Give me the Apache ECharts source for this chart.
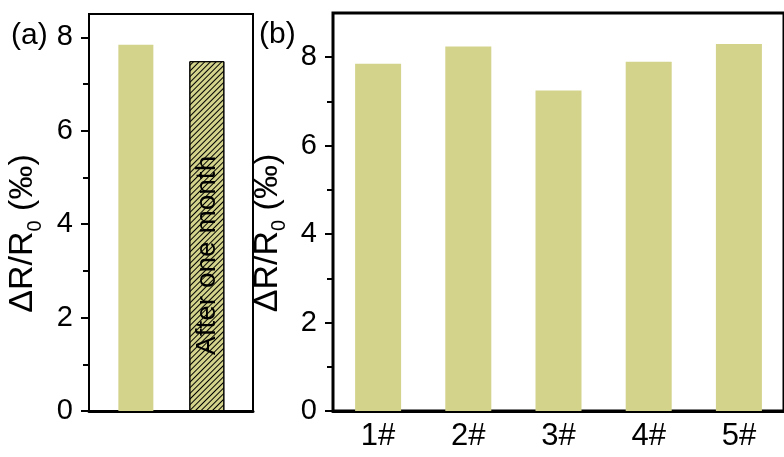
<!DOCTYPE html>
<html>
<head>
<meta charset="utf-8">
<script src="https://cdn.jsdelivr.net/npm/echarts@6/dist/echarts.min.js"></script>
<style>
  html, body { margin: 0; padding: 0; background: #fff; }
  #chart { width: 784px; height: 457px; }
</style>
</head>
<body>
<div id="chart"></div>
<script>
// panel (a): fresh vs after one month
const posA = [1, 2];
const valuesA = [7.84, 7.49];
const noteA = 'After one month';

// panel (b): five samples
const samplesB = ['1#', '2#', '3#', '4#', '5#'];
const valuesB = [7.85, 8.24, 7.25, 7.90, 8.30];

const majorTicks = [0, 2, 4, 6, 8];
const minorTicks = [1, 3, 5, 7];

const FONT = '"Liberation Sans", Arial, sans-serif';
const OLIVE = '#d3d38b';

const chart = echarts.init(document.getElementById('chart'), null, { renderer: 'canvas' });

const yName = '{a|ΔR/R}{s|0}{a| (‰)}';
const yNameStyle = {
    padding: [0, 42, 0, 0],
    rich: {
        a: { fontSize: 34, lineHeight: 44, fontFamily: FONT, color: '#000' },
        s: { fontSize: 20, lineHeight: 20, fontFamily: FONT, color: '#000', padding: [24, 0, 0, 0] }
    }
};

function mainY(grid, max, gap) {
    return {
        type: 'value', gridIndex: grid, min: 0, max: max, interval: 2,
        name: yName, nameLocation: 'middle', nameGap: gap, nameTextStyle: yNameStyle,
        axisLine: { show: true, lineStyle: { color: '#000', width: 2 } },
        axisTick: { show: true, inside: false, length: 8, customValues: majorTicks,
            lineStyle: { color: '#000', width: 2 } },
        axisLabel: { customValues: majorTicks, fontSize: 29, fontFamily: FONT, color: '#000', margin: 16 },
        splitLine: { show: false }
    };
}

function minorY(grid, max) {
    return {
        type: 'value', gridIndex: grid, min: 0, max: max, interval: 1, position: 'left',
        axisLine: { show: false },
        axisTick: { show: true, length: 6, customValues: minorTicks,
            lineStyle: { color: '#000', width: 2 } },
        axisLabel: { show: false },
        splitLine: { show: false }
    };
}

const titleStyle = { fontSize: 30, fontWeight: 'normal', fontFamily: FONT, color: '#000' };

const option = {
    backgroundColor: '#fff',
    animation: false,
    title: [
        { text: '(a)', left: 11, top: 21, padding: 0, textStyle: titleStyle },
        { text: '(b)', left: 259, top: 20, padding: 0, textStyle: titleStyle }
    ],
    grid: [
        { left: 89, top: 14, width: 164, height: 397, show: true,
          borderColor: '#000', borderWidth: 2, backgroundColor: 'transparent' },
        { left: 333, top: 13, width: 458, height: 398, show: true,
          borderColor: '#000', borderWidth: 3, backgroundColor: 'transparent' }
    ],
    xAxis: [
        { type: 'value', gridIndex: 0, min: 0.34, max: 2.65,
          axisLine: { show: true, onZero: false, lineStyle: { color: '#000', width: 3 } },
          axisTick: { show: false }, axisLabel: { show: false }, splitLine: { show: false } },
        { type: 'category', gridIndex: 1, data: samplesB, boundaryGap: true,
          axisLine: { show: true, lineStyle: { color: '#000', width: 3 } },
          axisTick: { show: false },
          axisLabel: { fontSize: 31, fontFamily: FONT, color: '#000', margin: 10 } }
    ],
    yAxis: [
        mainY(0, 8.5, 44),
        minorY(0, 8.5),
        mainY(1, 9, 42),
        minorY(1, 9)
    ],
    series: [
        {
            type: 'bar', xAxisIndex: 0, yAxisIndex: 0, barWidth: 35,
            data: [
                { value: [posA[0], valuesA[0]], itemStyle: { color: OLIVE } },
                {
                    value: [posA[1], valuesA[1]],
                    itemStyle: {
                        color: OLIVE, borderColor: '#000', borderWidth: 1,
                        decal: {
                            symbol: 'rect', symbolSize: 1, color: '#000',
                            dashArrayX: [1, 0], dashArrayY: [1, 2.2],
                            rotation: -Math.PI / 4
                        }
                    },
                    label: {
                        show: true, formatter: noteA, position: 'insideBottom',
                        distance: 56, rotate: 90, align: 'left', verticalAlign: 'middle',
                        fontSize: 28, fontFamily: FONT, color: '#000'
                    }
                }
            ]
        },
        {
            type: 'bar', xAxisIndex: 1, yAxisIndex: 2, barWidth: 46,
            itemStyle: { color: OLIVE },
            data: valuesB
        }
    ]
};

chart.setOption(option);
</script>
</body>
</html>
